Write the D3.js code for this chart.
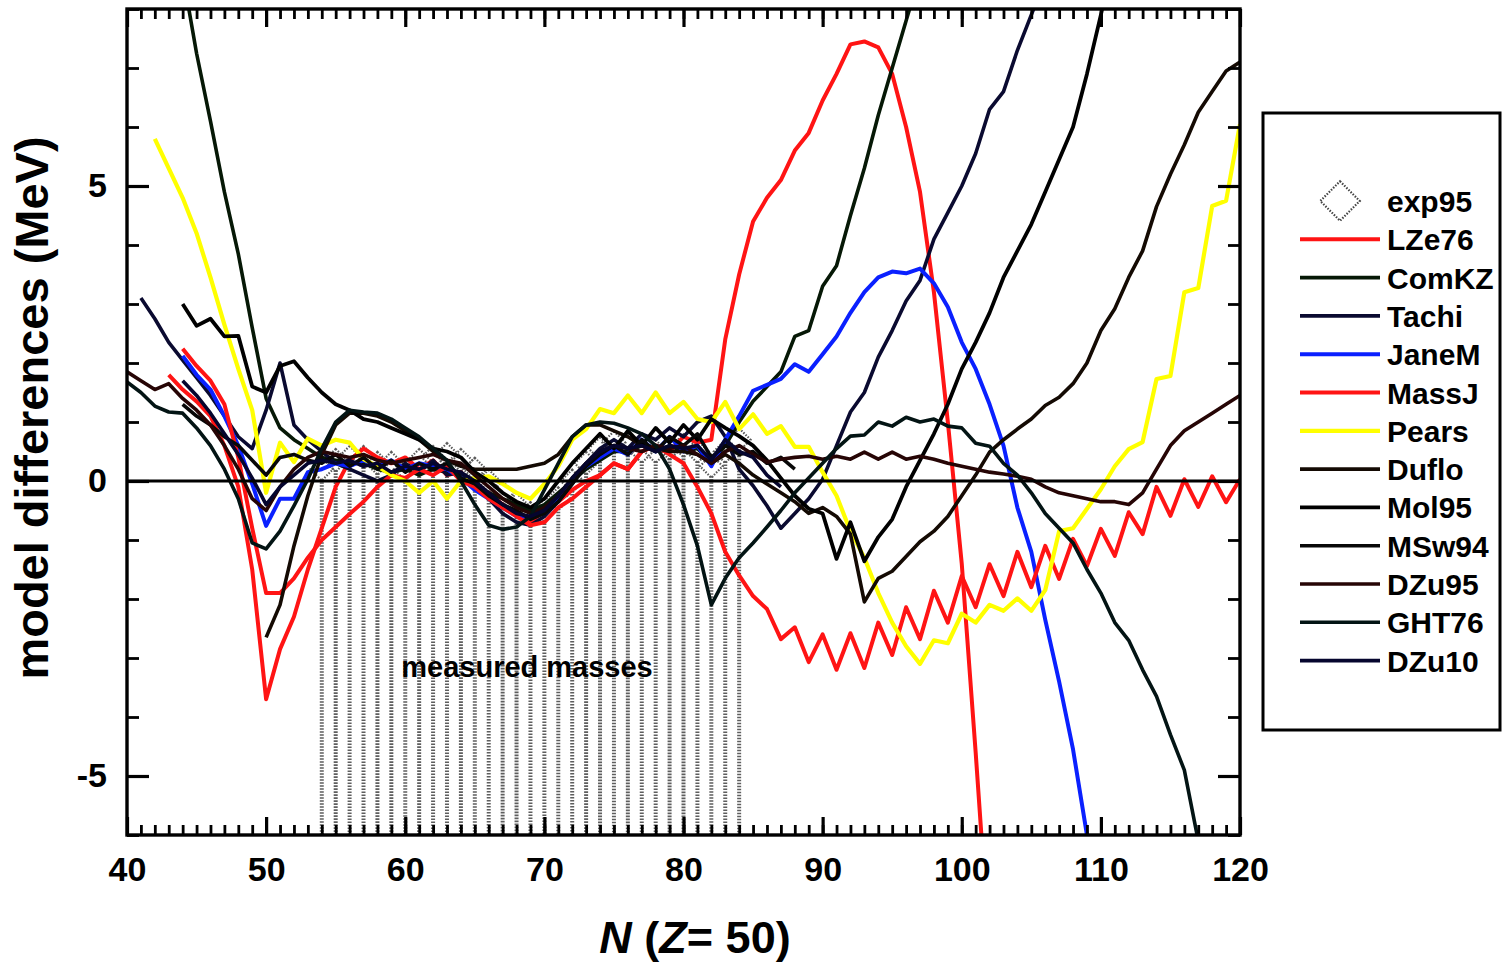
<!DOCTYPE html>
<html>
<head>
<meta charset="utf-8">
<script src="https://cdn.jsdelivr.net/npm/d3@7"></script>
<style>
  body { margin: 0; background: #fff; }
  text { font-family: "Liberation Sans", Arial, sans-serif; font-weight: bold; fill: #000; }
</style>
</head>
<body>
<svg id="chart" width="1508" height="965"></svg>
<script>
// x ticks / y ticks
const xMajor = [40, 50, 60, 70, 80, 90, 100, 110, 120];
const yMajor = [-5, 0, 5];

// each model: first N and the values at N, N+1, ...
const nLZe76 = 43;
const LZe76 = [1.8,1.55,1.35,1.1,0.6,-0.1,-1.5,-3.7,-2.85,-2.3,
  -1.5,-0.8,-0.1,0.35,0.55,0.4,0.3,0.4,0.2,0.35,
  0.1,0.15,-0.1,-0.2,-0.4,-0.55,-0.7,-0.5,-0.35,-0.15,
  0.0,0.1,0.3,0.2,0.5,0.6,0.5,0.75,0.65,0.7,
  2.4,3.5,4.4,4.8,5.1,5.6,5.9,6.45,6.9,7.4,
  7.45,7.35,6.9,6.0,4.9,3.2,1.0,-1.4,-4.6,-8];

const nComKZ = 44;
const ComKZ = [8.6,7.25,6.1,4.9,3.85,2.6,1.4,0.9,0.7,0.55,
  0.4,0.35,0.3,0.3,0.2,0.15,0.2,0.1,0.2,0.15,
  0.1,-0.05,-0.2,-0.3,-0.4,-0.5,-0.4,-0.2,0.0,0.2,
  0.35,0.5,0.5,0.6,0.5,0.6,0.5,0.55,0.3,0.6,
  1.0,1.35,1.6,1.85,2.45,2.55,3.3,3.65,4.5,5.3,
  6.2,7.0,7.8,8.6];

const nTachi = 41;
const Tachi = [3.1,2.75,2.35,2.05,1.75,1.45,1.1,0.75,0.55,1.2,
  2.0,0.95,0.7,0.5,0.3,0.2,0.1,0.0,0.1,0.3,
  0.15,0.35,0.1,0.15,-0.1,-0.3,-0.55,-0.7,-0.75,-0.6,
  -0.35,-0.05,0.3,0.55,0.7,0.55,0.8,0.7,0.9,0.75,
  1.0,1.1,0.75,0.2,-0.08,-0.42,-0.8,-0.55,-0.3,0.03,
  0.6,1.17,1.5,2.1,2.55,3.05,3.4,4.1,4.55,5.0,
  5.55,6.3,6.6,7.3,7.9,8.5];

const nJaneM = 44;
const JaneM = [2.12,1.8,1.55,1.1,0.6,-0.05,-0.76,-0.3,-0.3,0.15,
  0.2,0.3,0.25,0.35,0.25,0.35,0.2,0.3,0.25,0.2,
  0.05,-0.15,-0.3,-0.45,-0.6,-0.6,-0.5,-0.3,0.0,0.25,
  0.4,0.55,0.45,0.7,0.5,0.75,0.5,0.6,0.25,0.7,
  1.1,1.53,1.63,1.73,1.98,1.85,2.15,2.45,2.85,3.2,
  3.45,3.55,3.52,3.6,3.35,2.95,2.35,1.9,1.3,0.6,
  -0.45,-1.2,-2.35,-3.4,-4.55,-6.0];

const nMassJ = 44;
const MassJ = [2.24,1.95,1.7,1.3,0.4,-0.8,-1.9,-1.9,-1.65,-1.3,
  -1.0,-0.78,-0.56,-0.35,-0.1,0.1,0.05,0.2,0.1,0.25,
  0.0,-0.1,-0.3,-0.45,-0.6,-0.75,-0.7,-0.45,-0.3,-0.1,
  0.1,0.3,0.2,0.5,0.6,0.45,0.3,-0.1,-0.55,-1.2,
  -1.6,-1.95,-2.17,-2.68,-2.48,-3.07,-2.6,-3.2,-2.58,-3.17,
  -2.4,-2.95,-2.14,-2.68,-1.86,-2.4,-1.61,-2.14,-1.41,-1.95,
  -1.2,-1.8,-1.1,-1.66,-0.98,-1.44,-0.81,-1.27,-0.53,-0.9,
  -0.1,-0.59,0.03,-0.44,0.08,-0.36,0.03];

const nPears = 42;
const Pears = [5.8,5.3,4.8,4.2,3.45,2.65,1.9,1.2,-0.2,0.65,
  0.32,0.72,0.6,0.7,0.65,0.37,0.25,0.1,0.0,-0.2,
  0.0,-0.3,0.0,0.05,0.08,-0.05,-0.2,-0.3,-0.05,0.25,
  0.7,0.88,1.22,1.15,1.45,1.15,1.5,1.15,1.34,1.05,
  1.0,1.34,0.88,1.13,0.8,0.93,0.58,0.58,0.15,-0.25,
  -0.85,-1.3,-1.9,-2.4,-2.8,-3.1,-2.7,-2.75,-2.25,-2.4,
  -2.1,-2.2,-1.99,-2.2,-1.85,-0.85,-0.8,-0.47,-0.14,0.25,
  0.54,0.66,1.73,1.78,3.2,3.27,4.66,4.75,6.05];

const nDuflo = 50;
const Duflo = [-2.65,-2.1,-1.1,-0.25,0.45,0.95,1.15,1.15,1.1,1.0,
  0.85,0.7,0.5,0.35,0.25,0.2,0.2,0.2,0.2,0.25,
  0.3,0.45,0.75,0.95,0.95,0.85,0.75,0.6,0.55,0.5,
  0.5,0.45,0.3,0.45,0.3,0.1,-0.05,-0.2,-0.35,-0.55,
  -0.45,-0.6,-0.9,-2.05,-1.65,-1.53,-1.28,-1.03,-0.85,-0.6,
  -0.25,0.1,0.49,0.7,0.88,1.05,1.28,1.42,1.65,2.0,
  2.55,2.92,3.45,3.9,4.65,5.2,5.7,6.25,6.6,6.95,
  7.1];

const nMol95 = 44;
const Mol95 = [3.0,2.63,2.75,2.45,2.46,1.6,1.5,1.95,2.03,1.75,
  1.5,1.3,1.2,1.05,1.0,0.9,0.8,0.7,0.55,0.5,
  0.4,0.15,0.0,-0.2,-0.35,-0.45,-0.3,0.0,0.3,0.55,
  0.8,0.55,0.85,0.6,0.9,0.65,0.95,0.7,1.05,0.9,
  0.76,0.6,0.35,0.05,-0.25,-0.47,-0.55,-1.32,-0.7,-1.36,
  -0.95,-0.65,-0.1,0.35,0.8,1.3,1.9,2.35,2.85,3.45,
  3.9,4.35,4.9,5.45,6.0,6.9,7.9,9.0];

const nMSw94 = 44;
const MSw94 = [1.3,1.1,0.95,0.75,0.6,0.35,0.1,0.4,0.45,0.35,
  0.3,0.45,0.25,0.4,0.2,0.35,0.15,0.3,0.2,0.3,
  0.05,-0.05,-0.25,-0.4,-0.5,-0.65,-0.55,-0.35,-0.05,0.25,
  0.45,0.6,0.45,0.7,0.5,0.75,0.6,0.8,0.4,0.6,
  0.45,0.5,0.3,0.4,0.2];

const nDZu95 = 40;
const DZu95 = [1.85,1.7,1.55,1.65,1.4,1.2,0.95,0.6,0.2,-0.3,
  -0.5,-0.1,0.2,0.4,0.5,0.45,0.4,0.45,0.35,0.3,
  0.35,0.4,0.45,0.35,0.3,0.1,-0.1,-0.3,-0.45,-0.55,
  -0.45,-0.25,0.05,0.3,0.5,0.6,0.55,0.5,0.6,0.55,
  0.6,0.45,0.3,0.5,0.6,0.45,0.32,0.37,0.4,0.42,
  0.37,0.42,0.37,0.49,0.37,0.49,0.37,0.42,0.37,0.3,
  0.25,0.2,0.15,0.12,0.08,0.03,-0.1,-0.2,-0.25,-0.3,
  -0.35,-0.35,-0.4,-0.2,0.2,0.6,0.85,1.0,1.15,1.3,
  1.45];

const nGHT76 = 40;
const GHT76 = [1.68,1.5,1.27,1.17,1.15,0.9,0.6,0.2,-0.3,-1.05,
  -1.15,-0.85,-0.42,0.03,0.55,1.0,1.2,1.17,1.15,1.05,
  0.9,0.75,0.55,0.35,0.0,-0.4,-0.75,-0.82,-0.78,-0.6,
  -0.15,0.3,0.75,0.95,1.0,0.98,0.9,0.8,0.6,0.2,
  -0.4,-1.1,-2.1,-1.65,-1.3,-1.05,-0.78,-0.5,-0.2,0.05,
  0.3,0.55,0.76,0.78,1.0,0.93,1.08,1.0,1.05,0.93,
  0.9,0.64,0.59,0.3,0.1,-0.2,-0.55,-0.8,-1.05,-1.5,
  -1.9,-2.4,-2.7,-3.2,-3.65,-4.3,-4.9,-6.1];

const nDZu10 = 44;
const DZu10 = [1.7,1.45,1.15,0.8,0.45,0.05,-0.4,-0.1,0.1,0.3,
  0.35,0.3,0.35,0.25,0.3,0.15,0.25,0.2,0.3,0.2,
  0.15,0.0,-0.2,-0.4,-0.55,-0.6,-0.5,-0.25,0.05,0.3,
  0.5,0.6,0.55,0.6,0.5,0.6,0.55,0.6,0.35,0.7,
  0.5,0.4,0.1,-0.1];

// measured masses, N = 54..84
const nExp95 = 54;
const exp95 = [0.2,0.35,0.4,0.4,0.3,0.3,0.2,0.35,0.4,0.45,
  0.35,0.2,0.0,-0.2,-0.4,-0.55,-0.5,-0.3,0.0,0.3,
  0.55,0.65,0.6,0.5,0.5,0.55,0.6,0.5,0.25,0.5,
  0.7];

const series = [
  { name: "LZe76", start: nLZe76, values: LZe76, color: "#ff1414", w: 4 },
  { name: "ComKZ", start: nComKZ, values: ComKZ, color: "#061806", w: 3.6 },
  { name: "Tachi", start: nTachi, values: Tachi, color: "#0a0a30", w: 3.6 },
  { name: "JaneM", start: nJaneM, values: JaneM, color: "#0a20ff", w: 4 },
  { name: "MassJ", start: nMassJ, values: MassJ, color: "#ff1414", w: 4 },
  { name: "Pears", start: nPears, values: Pears, color: "#ffff00", w: 4.2 },
  { name: "Duflo", start: nDuflo, values: Duflo, color: "#140a03", w: 3.6 },
  { name: "Mol95", start: nMol95, values: Mol95, color: "#000000", w: 3.8 },
  { name: "MSw94", start: nMSw94, values: MSw94, color: "#080808", w: 3.6 },
  { name: "DZu95", start: nDZu95, values: DZu95, color: "#260505", w: 3.6 },
  { name: "GHT76", start: nGHT76, values: GHT76, color: "#031414", w: 3.6 },
  { name: "DZu10", start: nDZu10, values: DZu10, color: "#05052e", w: 3.6 }
];

const svg = d3.select("#chart");
const x = d3.scaleLinear().domain([40, 120]).range([127, 1240]);
const y = d3.scaleLinear().domain([-6, 8]).range([835, 9]);
const plotBottom = 835, plotTop = 9;

svg.append("defs").append("clipPath").attr("id", "plotClip")
  .append("rect").attr("x", 127).attr("y", plotTop).attr("width", 1113).attr("height", plotBottom - plotTop);

const plot = svg.append("g").attr("clip-path", "url(#plotClip)");

// exp95: stippled drop lines + dotted diamonds
const expPts = exp95.map((v, i) => [nExp95 + i, v]);
plot.append("g").selectAll("line").data(expPts).join("line")
  .attr("x1", d => x(d[0])).attr("x2", d => x(d[0]))
  .attr("y1", d => y(d[1]) + 10).attr("y2", y(-6))
  .attr("stroke", "#5e5e5e").attr("stroke-width", 4)
  .attr("stroke-dasharray", "1.6,1.4");

const diamond = d3.symbol(d3.symbolSquare).size(260);
plot.append("g").selectAll("path").data(expPts).join("path")
  .attr("d", diamond)
  .attr("transform", d => `translate(${x(d[0])},${y(d[1])}) rotate(45)`)
  .attr("fill", "none").attr("stroke", "#5a5a5a").attr("stroke-width", 2.2)
  .attr("stroke-dasharray", "1.5,1.5");

svg.append("text").attr("x", 527).attr("y", 677).attr("text-anchor", "middle")
  .attr("font-size", 29).text("measured masses");

// model curves
const line = d3.line().x(d => x(d[0])).y(d => y(d[1]));
plot.append("g").selectAll("path").data(series).join("path")
  .attr("d", s => line(s.values.map((v, i) => [s.start + i, v])))
  .attr("fill", "none")
  .attr("stroke", s => s.color)
  .attr("stroke-width", s => s.w)
  .attr("stroke-linejoin", "round");

// zero line
plot.append("line").attr("x1", x(40)).attr("x2", x(120))
  .attr("y1", y(0)).attr("y2", y(0))
  .attr("stroke", "#000").attr("stroke-width", 3);

// axes: inward ticks on all four sides
const fmt = d => String(d);
function styleAxis(g, sw) {
  g.select(".domain").remove();
  g.selectAll(".tick line").attr("stroke", "#000").attr("stroke-width", sw);
}
svg.append("g").attr("transform", `translate(0,${plotBottom})`)
  .call(d3.axisBottom(x).tickValues(d3.range(40, 121, 1)).tickSize(-10).tickFormat(""))
  .call(g => styleAxis(g, 2.8));
svg.append("g").attr("transform", `translate(0,${plotBottom})`)
  .call(d3.axisBottom(x).tickValues(xMajor).tickSize(-18).tickPadding(22).tickFormat(fmt))
  .call(g => styleAxis(g, 3.2))
  .call(g => g.selectAll("text").attr("font-size", 34).attr("fill", "#000"));
svg.append("g").attr("transform", `translate(0,${plotTop})`)
  .call(d3.axisTop(x).tickValues(d3.range(40, 121, 1)).tickSize(-10).tickFormat(""))
  .call(g => styleAxis(g, 2.8));
svg.append("g").attr("transform", `translate(0,${plotTop})`)
  .call(d3.axisTop(x).tickValues(xMajor).tickSize(-18).tickFormat(""))
  .call(g => styleAxis(g, 3.2));
svg.append("g").attr("transform", "translate(127,0)")
  .call(d3.axisLeft(y).tickValues(d3.range(-6, 9, 1)).tickSize(-12).tickFormat(""))
  .call(g => styleAxis(g, 2.8));
svg.append("g").attr("transform", "translate(127,0)")
  .call(d3.axisLeft(y).tickValues(yMajor).tickSize(-22).tickPadding(20).tickFormat(fmt))
  .call(g => styleAxis(g, 3.2))
  .call(g => g.selectAll("text").attr("font-size", 34).attr("fill", "#000"));
svg.append("g").attr("transform", "translate(1240,0)")
  .call(d3.axisRight(y).tickValues(d3.range(-6, 9, 1)).tickSize(-12).tickFormat(""))
  .call(g => styleAxis(g, 2.8));
svg.append("g").attr("transform", "translate(1240,0)")
  .call(d3.axisRight(y).tickValues(yMajor).tickSize(-22).tickFormat(""))
  .call(g => styleAxis(g, 3.2));

// frame
svg.append("rect").attr("x", 127).attr("y", plotTop).attr("width", 1113).attr("height", plotBottom - plotTop)
  .attr("fill", "none").attr("stroke", "#000").attr("stroke-width", 3.4);

// axis titles
const xt = svg.append("text").attr("x", 695).attr("y", 953).attr("text-anchor", "middle").attr("font-size", 45);
xt.append("tspan").attr("font-style", "italic").text("N");
xt.append("tspan").text(" (");
xt.append("tspan").attr("font-style", "italic").text("Z");
xt.append("tspan").text("= 50)");

svg.append("text").attr("transform", "translate(48,408) rotate(-90)")
  .attr("text-anchor", "middle").attr("font-size", 47).text("model differences (MeV)");

// legend
const lg = svg.append("g");
lg.append("rect").attr("x", 1263).attr("y", 113).attr("width", 237).attr("height", 617)
  .attr("fill", "#fff").attr("stroke", "#000").attr("stroke-width", 3);
const rowY = i => 201 + i * 38.3;
lg.append("path").attr("d", d3.symbol(d3.symbolSquare).size(780))
  .attr("transform", `translate(1340,${rowY(0)}) rotate(45)`)
  .attr("fill", "none").attr("stroke", "#444").attr("stroke-width", 2.2)
  .attr("stroke-dasharray", "1.5,1.5");
lg.append("text").attr("x", 1387).attr("y", rowY(0) + 11).attr("font-size", 30).text("exp95");
lg.selectAll("g.item").data(series).join("g").attr("class", "item")
  .each(function (s, i) {
    const g = d3.select(this), yy = rowY(i + 1);
    g.append("line").attr("x1", 1300).attr("x2", 1380).attr("y1", yy).attr("y2", yy)
      .attr("stroke", s.color).attr("stroke-width", s.w);
    g.append("text").attr("x", 1387).attr("y", yy + 11).attr("font-size", 30).text(s.name);
  });
</script>
</body>
</html>
